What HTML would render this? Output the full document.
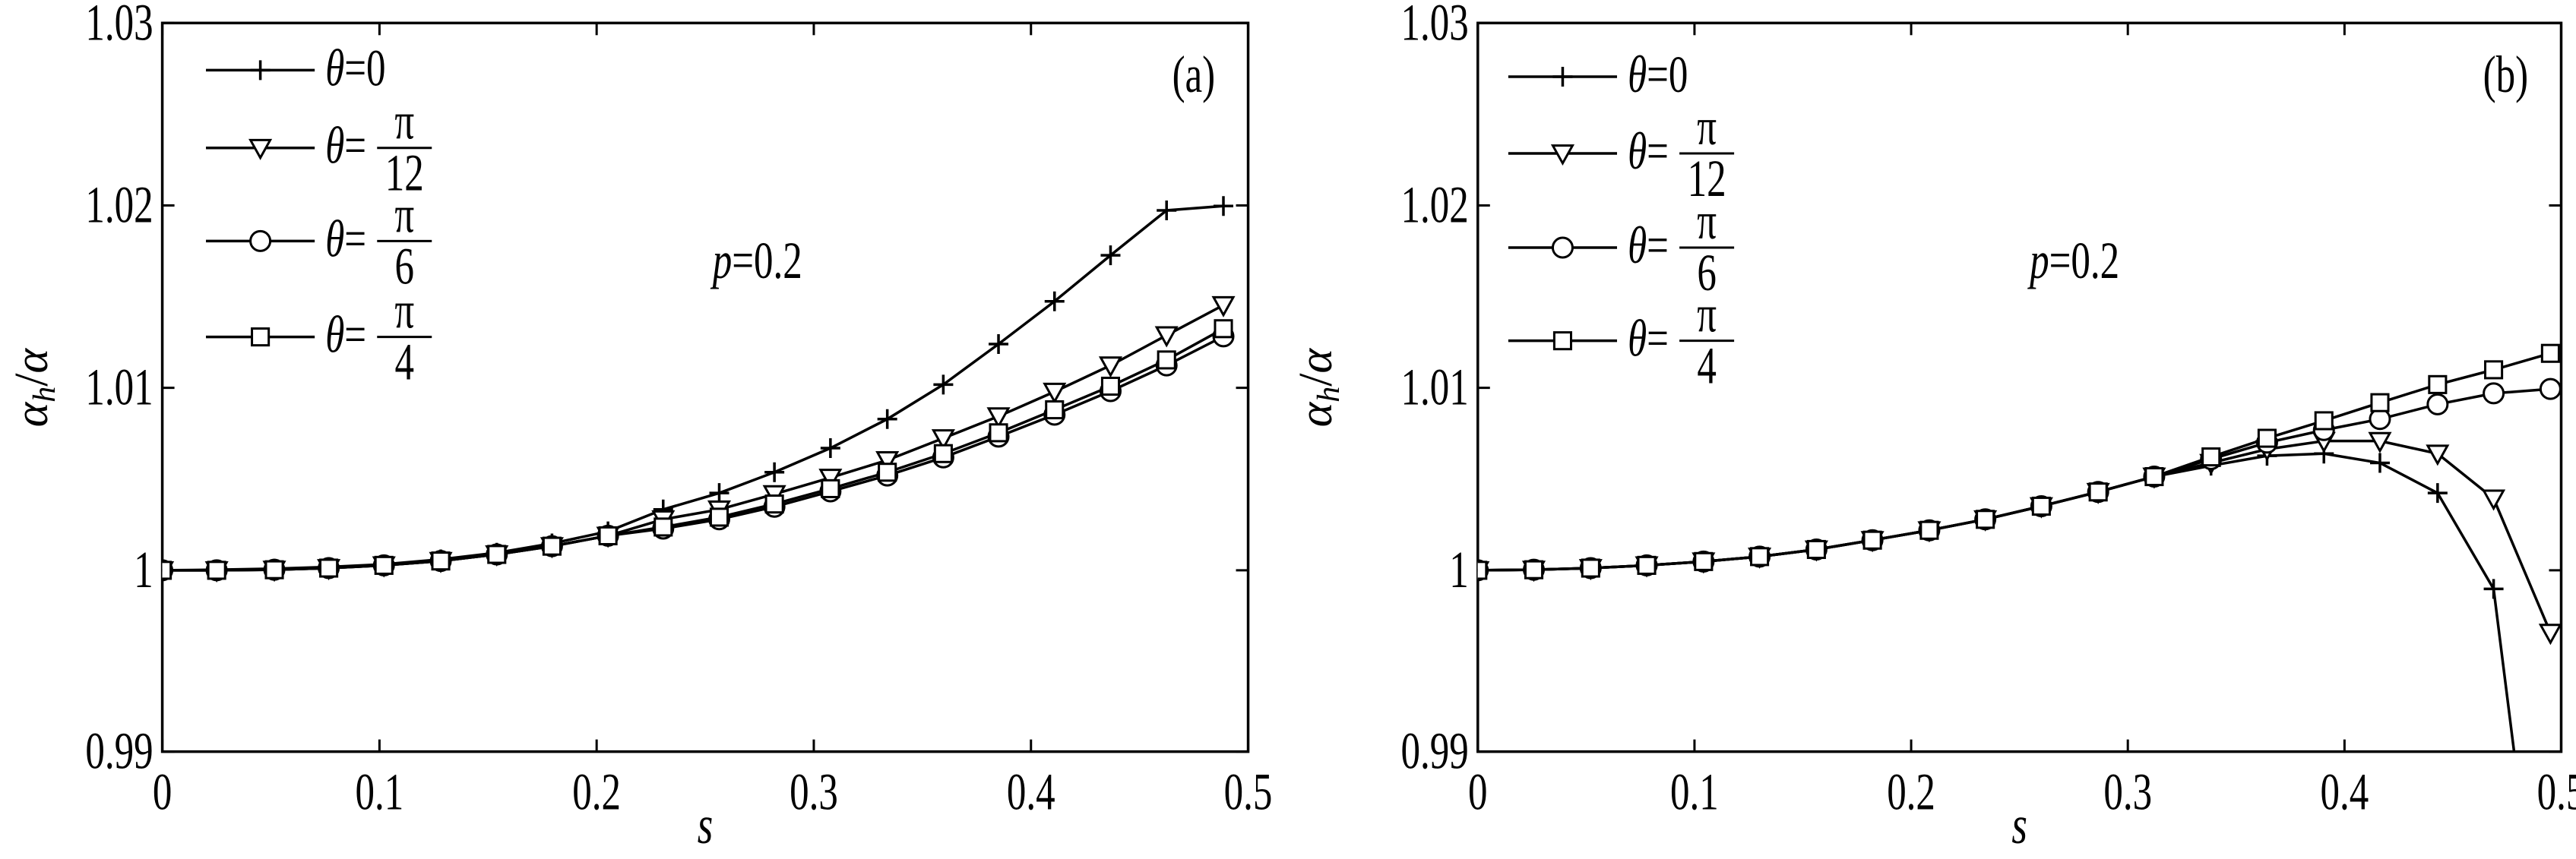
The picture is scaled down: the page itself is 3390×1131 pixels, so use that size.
<!DOCTYPE html>
<html><head><meta charset="utf-8"><style>
html,body{margin:0;padding:0;background:#fff;overflow:hidden;}
svg{display:block;}
text{font-family:"Liberation Serif","DejaVu Serif",serif;}
</style></head><body>
<svg id="s" xmlns="http://www.w3.org/2000/svg" width="3390" height="1131" viewBox="0 0 3390 1131" font-family="Liberation Serif, serif" overflow="hidden"></svg>
<script>
const S=document.getElementById('s');let h='';
const kx=1700/1568,ky=1131/1568;
const F='font-family="Liberation Serif, serif"';
function T(x,y,size,anchor,content,extra){return `<text ${F} x="${x}" y="${y}" font-size="${size}" text-anchor="${anchor}" transform="translate(${x},${y}) scale(0.85,1.15) translate(${-x},${-y})" ${extra||''}>${content}</text>`;}
function panel(off,ax0,ax1,mx,series,leg,letter,px,lx){
 const X=z=>off+z*kx,Y=z=>z*ky;
 const L=X(ax0),R=X(ax1),Tp=Y(42),B=Y(1372);
 h+=`<defs><clipPath id="c${off}"><rect x="${L}" y="${Tp}" width="${R-L}" height="${B-Tp}"/></clipPath></defs>`;
 const yt=[[42,'1.03'],[375,'1.02'],[708,'1.01'],[1041,'1'],[1372,'0.99']];
 yt.forEach(([z,t])=>{const y=Y(z);h+=`<line x1="${L}" y1="${y}" x2="${L+16}" y2="${y}" stroke="#000" stroke-width="3"/><line x1="${R}" y1="${y}" x2="${R-16}" y2="${y}" stroke="#000" stroke-width="3"/>`;
  h+=T(L-12,y+22,60,'end',t);});
 for(let i=0;i<=5;i++){const x=L+(R-L)*i/5;h+=`<line x1="${x}" y1="${Tp}" x2="${x}" y2="${Tp+16}" stroke="#000" stroke-width="3"/><line x1="${x}" y1="${B}" x2="${x}" y2="${B-16}" stroke="#000" stroke-width="3"/>`;
  h+=T(x,B+76,60,'middle',i==0?'0':'0.'+i);}
 h+=`<rect x="${L}" y="${Tp}" width="${R-L}" height="${B-Tp}" fill="none" stroke="#000" stroke-width="3.5"/>`;
 series.forEach(([m,ys])=>{
  const pts=ys.map((y,i)=>[X(mx[i]),Y(y)]);
  h+=`<g clip-path="url(#c${off})"><polyline points="${pts.map(p=>p.join(',')).join(' ')}" fill="none" stroke="#000" stroke-width="3.5"/>`;
  pts.forEach(p=>h+=mark(m,p[0],p[1]));h+='</g>';});
 const labs=['0','12','6','4'];
 leg.forEach((ly,i)=>{const y=Y(ly);const x1=X(lx),x2=X(lx+132);
  h+=`<line x1="${x1}" y1="${y}" x2="${x2}" y2="${y}" stroke="#000" stroke-width="3.5"/>`+mark(['plus','tri','circ','sq'][i],(x1+x2)/2,y);
  const tx=X(lx+145);
  if(i==0)h+=T(tx,y+20,60,'start','<tspan font-style="italic">θ</tspan>=0');
  else{h+=T(tx,y+20,60,'start','<tspan font-style="italic">θ</tspan>=');
   const fx=tx+68,fw=72;h+=`<line x1="${fx}" y1="${y}" x2="${fx+fw}" y2="${y}" stroke="#000" stroke-width="3"/>`;
   h+=T(fx+fw/2,y-12,60,'middle','π')+T(fx+fw/2,y+56,60,'middle',labs[i]);}
 });
 h+=T(X(px),Y(480)+20,60,'start','<tspan font-style="italic">p</tspan>=0.2');
 h+=T(X(ax1-40),Y(140)+20,60,'end',letter);
 const cx=(L+R)/2;h+=T(cx,1110,62,'middle','s','font-style="italic"');
 h+=`<text ${F} transform="translate(${off+62},${Y(708)}) rotate(-90)" font-size="62" text-anchor="middle"><tspan font-style="italic">α</tspan><tspan font-style="italic" font-size="42" dy="10">h</tspan><tspan dy="-10">/</tspan><tspan font-style="italic">α</tspan></text>`;
}
function mark(m,x,y){const r=13;
 if(m=='plus')return `<path d="M${x-r} ${y}H${x+r}M${x} ${y-r}V${y+r}" stroke="#000" stroke-width="3.5"/>`;
 if(m=='tri')return `<path d="M${x-r} ${y-r*0.8}L${x+r} ${y-r*0.8}L${x} ${y+r}Z" fill="#fff" stroke="#000" stroke-width="3"/>`;
 if(m=='circ')return `<circle cx="${x}" cy="${y}" r="${r}" fill="#fff" stroke="#000" stroke-width="3"/>`;
 return `<rect x="${x-r*0.85}" y="${y-r*0.85}" width="${r*1.7}" height="${r*1.7}" fill="#fff" stroke="#000" stroke-width="3"/>`;}
const mxA=[197,263,333,399,466,535,603,670,738,805,873,940,1008,1077,1145,1212,1280,1348,1416,1485];
const com=[1041,1041,1040,1037,1032,1024,1012,997,978];
panel(0,197,1515,mxA,[
 ['plus',[1041,1040,1038,1035,1030,1021,1009,992,970,930,900,862,818,765,702,628,550,466,384,376]],
 ['tri',[...com,948,930,902,872,840,800,760,715,667,612,557]],
 ['circ',[...com,965,948,925,897,868,835,797,757,714,667,614]],
 ['sq',[...com,962,944,920,892,862,828,790,748,705,657,600]]],
 [128,270,440,615],'(a)',865,250);
const mxB=[235,303,372,440,509,577,646,714,783,851,919,988,1056,1125,1193,1262,1330,1400,1468,1537];
const cb=[1041,1040,1037,1032,1025,1016,1003,986,968,948,924,898,870,842];
panel(1690,235,1550,mxB,[
 ['plus',[...cb.slice(0,13),850,832,828,845,900,1075,1900]],
 ['tri',[...cb.slice(0,13),845,820,805,805,828,910,1155]],
 ['circ',[...cb.slice(0,13),838,808,785,765,738,718,710,712]],
 ['sq',[...cb.slice(0,13),834,800,768,735,702,675,645,612]]],
 [140,280,452,622],'(b)',905,272);
S.innerHTML=h;
</script>
</body></html>
